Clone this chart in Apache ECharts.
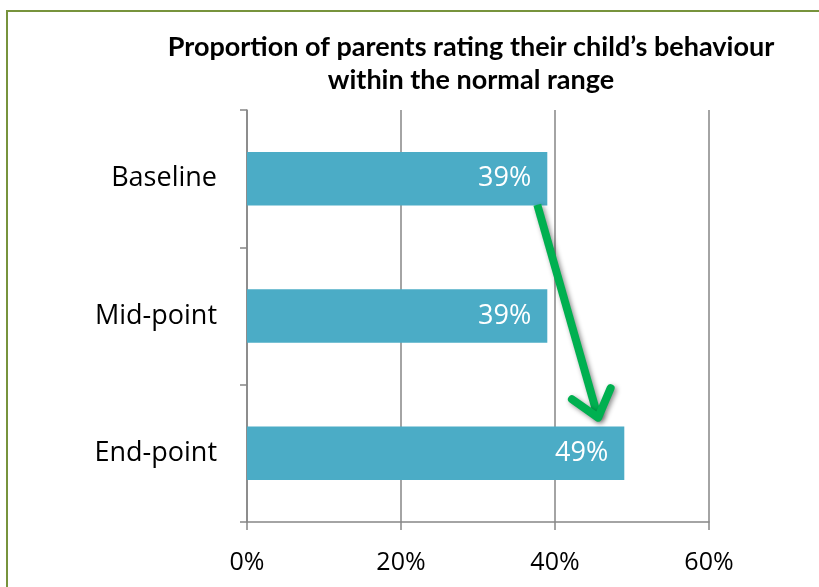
<!DOCTYPE html>
<html>
<head>
<meta charset="utf-8">
<script src="https://cdn.jsdelivr.net/npm/echarts@6/dist/echarts.min.js"></script>
<style>
  html, body { margin: 0; padding: 0; background: #fff; }
  #chart { width: 819px; height: 587px; }
</style>
</head>
<body>
<div id="chart"></div>
<script>
// Survey stages and share of parents rating behaviour in the normal range (%)
const stages = ['Baseline', 'Mid-point', 'End-point'];
const normalRangeShare = [39, 39, 49];
const xTicks = [0, 20, 40, 60];

// Trend arrow, in data units: [percent, category position]
const arrowFrom = [37.7, 0.19];
const arrowTo = [45.6, 1.74];

const FONT = 'Open Sans';
const chart = echarts.init(document.getElementById('chart'), null, { renderer: 'canvas' });

chart.setOption({
  backgroundColor: '#ffffff',
  animation: false,
  title: {
    text: 'Proportion of parents rating their child\u2019s behaviour\nwithin the normal range',
    left: 466,
    top: 26,
    textAlign: 'center',
    textStyle: {
      fontFamily: 'Lato',
      fontWeight: 'bold',
      fontSize: 27,
      lineHeight: 33,
      color: '#000'
    }
  },
  grid: { left: 247, right: 110, top: 110, bottom: 65, containLabel: false },
  xAxis: {
    type: 'value',
    min: xTicks[0],
    max: xTicks[xTicks.length - 1],
    interval: 20,
    axisLine: { show: true, lineStyle: { color: '#868686', width: 1.5 } },
    axisTick: { show: true, length: 8, lineStyle: { color: '#868686', width: 1.5 } },
    splitLine: { show: true, lineStyle: { color: '#868686', width: 1.5 } },
    axisLabel: {
      margin: 28,
      fontFamily: FONT,
      fontSize: 25,
      color: '#000',
      formatter: v => v + '%'
    }
  },
  yAxis: {
    type: 'category',
    data: stages,
    inverse: true,
    axisLine: { show: true, lineStyle: { color: '#868686', width: 1.5 } },
    axisTick: { show: true, length: 7, alignWithLabel: false, lineStyle: { color: '#868686', width: 1.5 } },
    axisLabel: {
      margin: 30,
      padding: [8, 0, 0, 0],
      fontFamily: FONT,
      fontSize: 27,
      color: '#000'
    }
  },
  series: [{
    type: 'bar',
    data: normalRangeShare,
    barCategoryGap: '61%',
    itemStyle: { color: '#4bacc6' },
    label: {
      show: true,
      position: 'insideRight',
      distance: 16,
      formatter: p => p.value + '%',
      fontFamily: FONT,
      fontSize: 27,
      color: '#ffffff'
    }
  }]
});

// Map a fractional category position to pixels using the integer category centers
function toPixel(pt) {
  const i = Math.floor(pt[1]);
  const a = chart.convertToPixel({ gridIndex: 0 }, [pt[0], stages[i]]);
  const b = chart.convertToPixel({ gridIndex: 0 }, [pt[0], stages[i + 1]]);
  const f = pt[1] - i;
  return [a[0], a[1] + (b[1] - a[1]) * f];
}

const p0 = toPixel(arrowFrom);
const p1 = toPixel(arrowTo);
const ang = Math.atan2(p1[1] - p0[1], p1[0] - p0[0]);
const headLen = 32, spread = 0.68;
const left = [p1[0] - headLen * Math.cos(ang - spread), p1[1] - headLen * Math.sin(ang - spread)];
const right = [p1[0] - headLen * Math.cos(ang + spread), p1[1] - headLen * Math.sin(ang + spread)];
const arrowStyle = {
  stroke: '#00b050',
  lineWidth: 8,
  lineCap: 'round',
  lineJoin: 'round',
  fill: null,
  shadowBlur: 5,
  shadowColor: 'rgba(0,0,0,0.45)',
  shadowOffsetX: 2,
  shadowOffsetY: 2
};

chart.setOption({
  graphic: [
    {
      type: 'rect',
      shape: { x: 7, y: 11, width: 830, height: 600 },
      style: { fill: null, stroke: '#77933c', lineWidth: 2 },
      silent: true
    },
    {
      type: 'polyline',
      shape: { points: [p0, p1] },
      style: Object.assign({}, arrowStyle, { lineCap: 'butt' }),
      z: 10
    },
    {
      type: 'polyline',
      shape: { points: [left, p1, right] },
      style: arrowStyle,
      z: 10
    }
  ]
});
</script>
</body>
</html>
